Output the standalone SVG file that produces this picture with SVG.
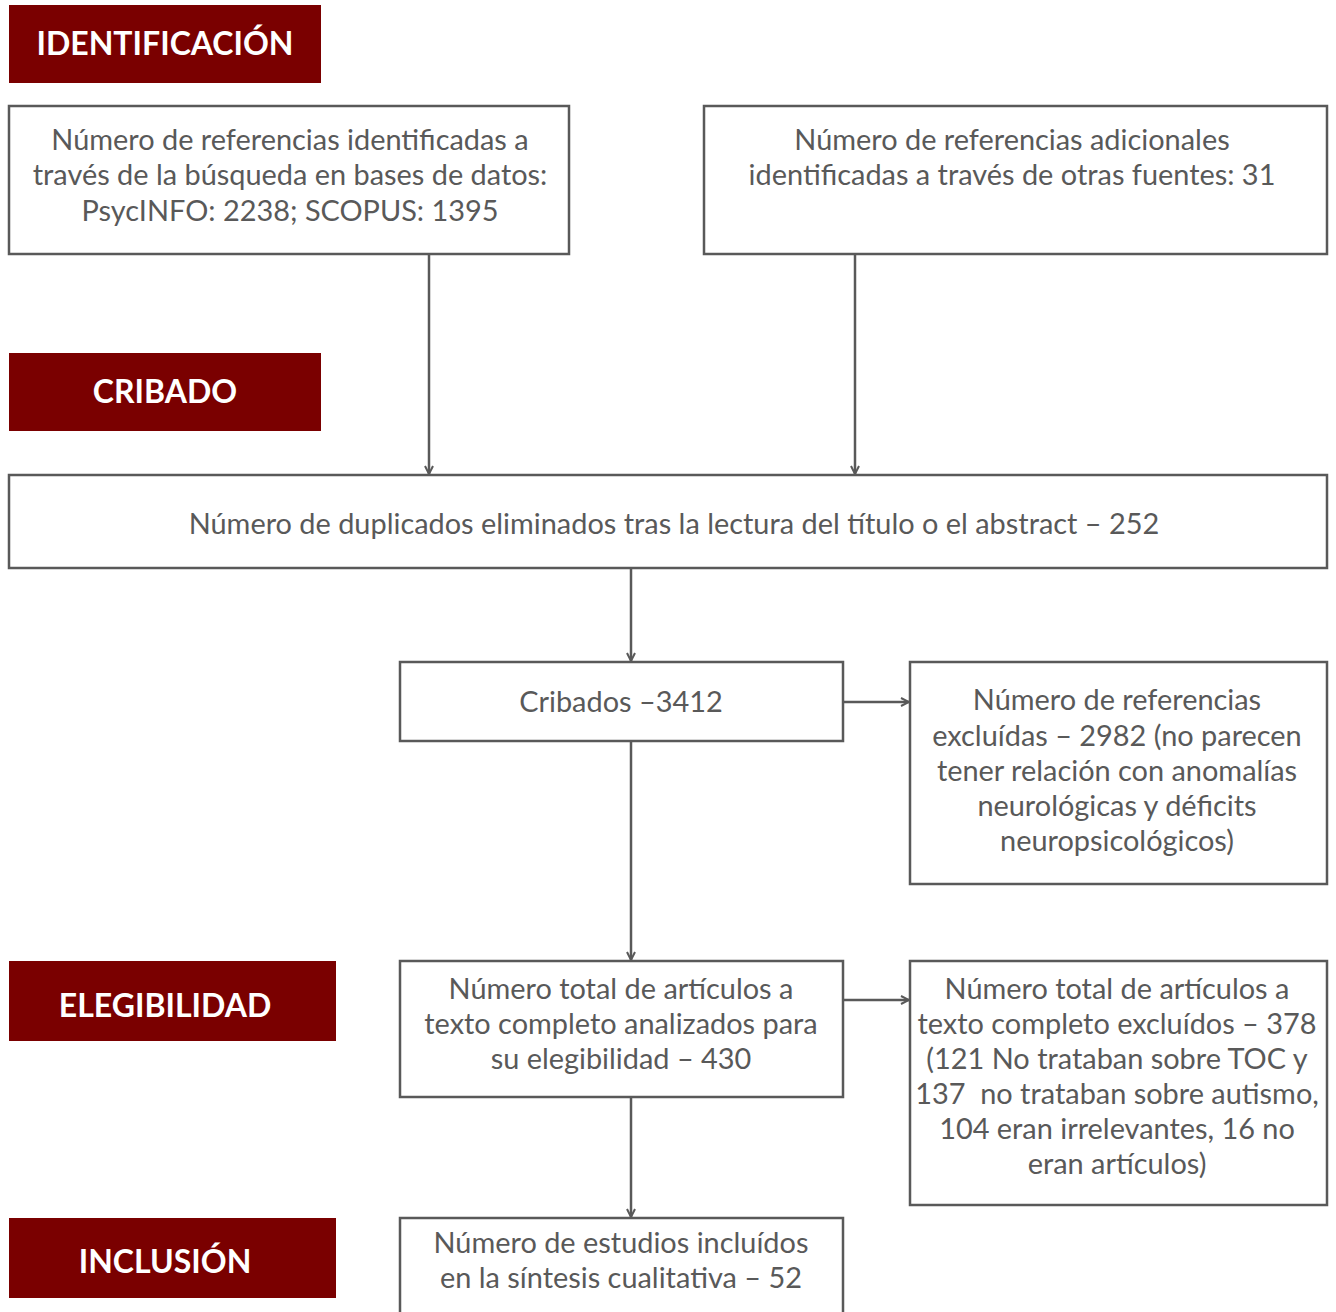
<svg xmlns="http://www.w3.org/2000/svg" width="1336" height="1312" viewBox="0 0 1336 1312">
<style>
.hdr{fill:#7a0000}
.ht{font-family:Lato,"Liberation Sans",sans-serif;font-weight:bold;font-size:32px;fill:#ffffff;text-anchor:middle}
.box{fill:#ffffff;stroke:#595959;stroke-width:2.5}
.t{font-family:Lato,"Liberation Sans",sans-serif;font-size:28.9px;fill:#595959;text-anchor:middle}
.c{stroke:#595959;stroke-width:2.5;fill:none;marker-end:url(#ah)}
</style>
<defs>
<marker id="ah" viewBox="0 0 10 10" refX="9" refY="5" markerWidth="4" markerHeight="4" orient="auto" markerUnits="strokeWidth">
<path d="M1,1 L9,5 L1,9" fill="none" stroke="#595959" stroke-width="2"/>
</marker>
</defs>
<rect width="1336" height="1312" fill="#ffffff"/>
<g id="h-identificacion"><rect class="hdr" x="9" y="5" width="312" height="78"/><text class="ht" x="165" y="55">IDENTIFICACIÓN</text></g>
<g id="h-cribado"><rect class="hdr" x="9" y="353" width="312" height="78"/><text class="ht" x="165" y="403">CRIBADO</text></g>
<g id="h-elegibilidad"><rect class="hdr" x="9" y="961" width="327" height="80"/><text class="ht" x="165" y="1017">ELEGIBILIDAD</text></g>
<g id="h-inclusion"><rect class="hdr" x="9" y="1218" width="327" height="80"/><text class="ht" x="165" y="1273">INCLUSIÓN</text></g>
<g id="connectors">
<line class="c" x1="429" y1="254" x2="429" y2="474"/>
<line class="c" x1="855" y1="254" x2="855" y2="474"/>
<line class="c" x1="631" y1="568" x2="631" y2="661"/>
<line class="c" x1="631" y1="741" x2="631" y2="960"/>
<line class="c" x1="631" y1="1097" x2="631" y2="1217"/>
<line class="c" x1="843" y1="702" x2="909" y2="702"/>
<line class="c" x1="843" y1="1000" x2="909" y2="1000"/>
</g>
<g id="n1"><rect class="box" x="9" y="106" width="560" height="148"/>
<text class="t" x="290" y="150">Número de referencias identificadas a</text>
<text class="t" x="290" y="185">través de la búsqueda en bases de datos:</text>
<text class="t" x="290" y="221">PsycINFO: 2238; SCOPUS: 1395</text></g>
<g id="n2"><rect class="box" x="704" y="106" width="623" height="148"/>
<text class="t" x="1012" y="150">Número de referencias adicionales</text>
<text class="t" x="1012" y="185">identificadas a través de otras fuentes: 31</text></g>
<g id="n3"><rect class="box" x="9" y="475" width="1318" height="93"/>
<text class="t" x="674" y="534">Número de duplicados eliminados tras la lectura del título o el abstract – 252</text></g>
<g id="n4"><rect class="box" x="400" y="662" width="443" height="79"/>
<text class="t" x="621" y="712">Cribados –3412</text></g>
<g id="n5"><rect class="box" x="910" y="662" width="417" height="222"/>
<text class="t" x="1117" y="710">Número de referencias</text>
<text class="t" x="1117" y="746">excluídas – 2982 (no parecen</text>
<text class="t" x="1117" y="781">tener relación con anomalías</text>
<text class="t" x="1117" y="816">neurológicas y déficits</text>
<text class="t" x="1117" y="851">neuropsicológicos)</text></g>
<g id="n6"><rect class="box" x="400" y="961" width="443" height="136"/>
<text class="t" x="621" y="999">Número total de artículos a</text>
<text class="t" x="621" y="1034">texto completo analizados para</text>
<text class="t" x="621" y="1069">su elegibilidad – 430</text></g>
<g id="n7"><rect class="box" x="910" y="961" width="417" height="244"/>
<text class="t" x="1117" y="999">Número total de artículos a</text>
<text class="t" x="1117" y="1034">texto completo excluídos – 378</text>
<text class="t" x="1117" y="1069">(121 No trataban sobre TOC y</text>
<text class="t" x="1117" y="1104" xml:space="preserve">137  no trataban sobre autismo,</text>
<text class="t" x="1117" y="1139">104 eran irrelevantes, 16 no</text>
<text class="t" x="1117" y="1174">eran artículos)</text></g>
<g id="n8"><rect class="box" x="400" y="1218" width="443" height="110"/>
<text class="t" x="621" y="1253">Número de estudios incluídos</text>
<text class="t" x="621" y="1288">en la síntesis cualitativa – 52</text></g>
</svg>
